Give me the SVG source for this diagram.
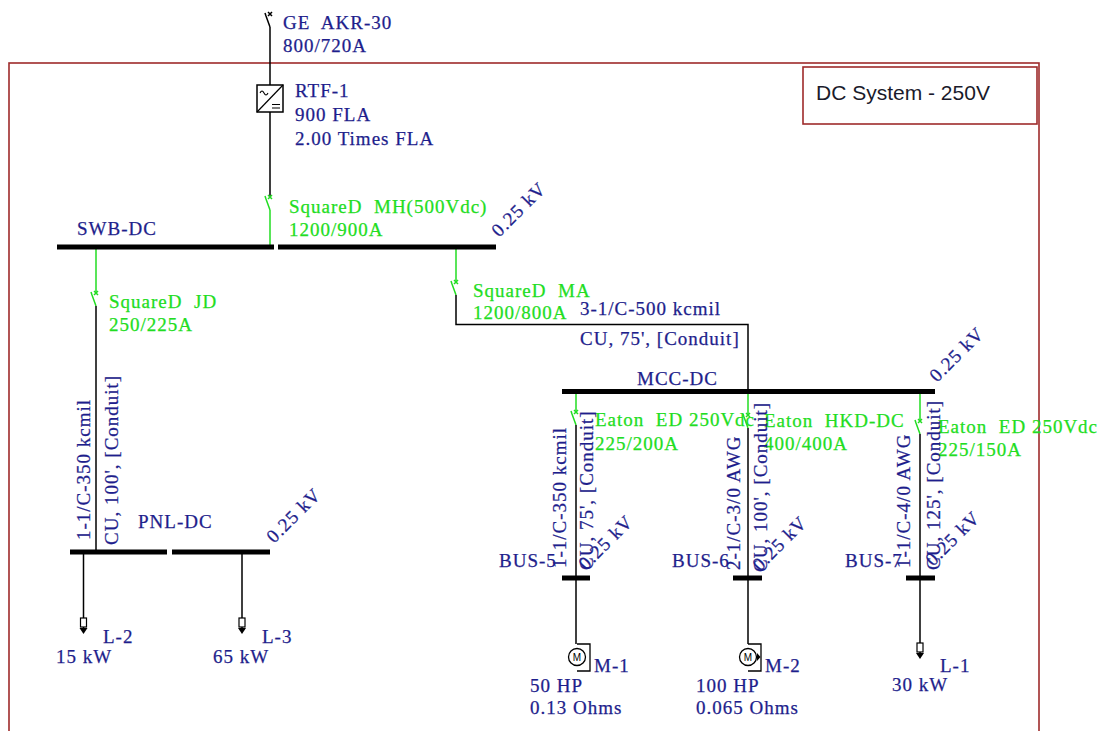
<svg xmlns="http://www.w3.org/2000/svg" width="1107" height="731" viewBox="0 0 1107 731">
<style>
.t{font-family:"Liberation Serif","Times New Roman",serif;font-size:19px;letter-spacing:1px;fill:#1e1e8c;stroke:#1e1e8c;stroke-width:0.25;white-space:pre}
.g{fill:#22dd22;stroke:#22dd22}
.k{stroke:#000;stroke-width:1.5;fill:none}
.gk{stroke:#22dd22;stroke-width:1.5;fill:none}
.bus{stroke:#000;stroke-width:5;fill:none}
.frame{fill:none;stroke:#9e2b2b;stroke-width:1.6}
.title{font-family:"Liberation Sans",Arial,sans-serif;font-size:21px;fill:#1a1a2a}
</style>
<defs>
<path id="brk" d="M-2,-2 L2,2 M-2,2 L2,-2 M-5,-1 L-4,2 L0,13"/>
<g id="load">
<rect x="-3" y="0" width="6" height="9" fill="#fff" stroke="#000" stroke-width="1.2"/>
<path d="M0,9 V11" stroke="#000" stroke-width="1.5"/>
<path d="M-4,10 H4 L0,16 Z" fill="#000"/>
</g>
<g id="motor">
<path d="M0,-13 H13 V14 H0" fill="none" stroke="#000" stroke-width="1.3"/>
<circle cx="0" cy="0" r="8.5" fill="#fff" stroke="#000" stroke-width="1.3"/>
<text x="0" y="3.5" text-anchor="middle" font-family="Liberation Sans,Arial,sans-serif" font-size="10" fill="#000">M</text>
</g>
</defs>
<rect width="1107" height="731" fill="#fff"/>

<g id="frame">
<rect class="frame" x="9" y="63" width="1030" height="690"/>
</g>
<g id="title">
<rect class="frame" x="803" y="67" width="234" height="57"/>
<text class="title" x="816" y="100">DC System - 250V</text>
</g>

<g id="connectors">
<use href="#brk" class="k" x="270" y="14"/>
<path class="k" d="M270,27 V85 M270,112 V196"/>
<use href="#brk" class="gk" x="270" y="197"/>
<path class="gk" d="M270,210 V246"/>
<path class="gk" d="M96,248 V292"/>
<use href="#brk" class="gk" x="96" y="293"/>
<path class="k" d="M96,306 V550"/>
<path class="gk" d="M456,248 V281"/>
<use href="#brk" class="gk" x="456" y="282"/>
<path class="k" d="M456,295 V324.5 H748 V389"/>
<path class="gk" d="M576,393 V411"/>
<use href="#brk" class="gk" x="576" y="412"/>
<path class="k" d="M576,425 V644"/>
<path class="k" d="M748,428 V644"/>
<path class="gk" d="M748,393 V414"/>
<use href="#brk" class="gk" x="748" y="415"/>
<path class="gk" d="M920,393 V420"/>
<use href="#brk" class="gk" x="920" y="421"/>
<path class="k" d="M920,434 V643"/>
<path class="k" d="M83.5,552 V618 M242,552 V618"/>
</g>

<g id="GE-AKR-30">
<text class="t" x="283" y="29">GE  AKR-30</text>
<text class="t" x="283" y="52">800/720A</text>
</g>

<g id="RTF-1">
<rect x="257" y="85" width="26" height="27" fill="#fff" stroke="#000" stroke-width="1.5"/>
<path d="M257,112 L283,85" stroke="#000" stroke-width="1.2"/>
<path d="M260,93 q2,-4 4,0 t4,0" fill="none" stroke="#000" stroke-width="1.1"/>
<path d="M272,104.5 H280 M272,108 H280" stroke="#000" stroke-width="1.1"/>
<text class="t" x="295" y="97">RTF-1</text>
<text class="t" x="295" y="121">900 FLA</text>
<text class="t" x="295" y="145">2.00 Times FLA</text>
</g>

<g id="SquareD-MH">
<text class="t g" x="289" y="213">SquareD  MH(500Vdc)</text>
<text class="t g" x="289" y="236">1200/900A</text>
</g>

<g id="SWB-DC">
<path class="bus" d="M57,247 H274 M278,247 H496"/>
<text class="t" x="77" y="235">SWB-DC</text>
<text class="t" transform="translate(499,238) rotate(-45)">0.25 kV</text>
</g>

<g id="SquareD-JD">
<text class="t g" x="109" y="308">SquareD  JD</text>
<text class="t g" x="109" y="331">250/225A</text>
</g>

<g id="cable-PNL">
<text class="t" transform="translate(90,540) rotate(-90)">1-1/C-350 kcmil</text>
<text class="t" transform="translate(118,545) rotate(-90)">CU, 100', [Conduit]</text>
</g>

<g id="PNL-DC">
<path class="bus" d="M70,552 H167 M172,552 H270"/>
<text class="t" x="138" y="528">PNL-DC</text>
<text class="t" transform="translate(274,544) rotate(-45)">0.25 kV</text>
</g>

<g id="L-2">
<use href="#load" x="83.5" y="618"/>
<text class="t" x="103" y="643">L-2</text>
<text class="t" x="56" y="663">15 kW</text>
</g>
<g id="L-3">
<use href="#load" x="242" y="618"/>
<text class="t" x="262" y="643">L-3</text>
<text class="t" x="213" y="663">65 kW</text>
</g>

<g id="SquareD-MA">
<text class="t g" x="473" y="297">SquareD  MA</text>
<text class="t g" x="473" y="319">1200/800A</text>
</g>

<g id="cable-MCC">
<text class="t" x="580" y="315">3-1/C-500 kcmil</text>
<text class="t" x="580" y="345">CU, 75', [Conduit]</text>
</g>

<g id="MCC-DC">
<path class="bus" d="M562,391.5 H935"/>
<text class="t" x="637" y="385">MCC-DC</text>
<text class="t" transform="translate(937,383) rotate(-45)">0.25 kV</text>
</g>

<g id="Eaton-ED-1">
<text class="t g" x="595" y="426">Eaton  ED 250Vdc</text>
<text class="t g" x="595" y="450">225/200A</text>
</g>
<g id="Eaton-HKD">
<text class="t g" x="764" y="427">Eaton  HKD-DC</text>
<text class="t g" x="764" y="450">400/400A</text>
</g>
<g id="Eaton-ED-2">
<text class="t g" x="938" y="433">Eaton  ED 250Vdc</text>
<text class="t g" x="938" y="456">225/150A</text>
</g>

<g id="cable-BUS5">
<text class="t" transform="translate(566,568) rotate(-90)">1-1/C-350 kcmil</text>
<text class="t" transform="translate(593,570) rotate(-90)">CU, 75', [Conduit]</text>
</g>
<g id="cable-BUS6">
<text class="t" transform="translate(740,570) rotate(-90)">2-1/C-3/0 AWG</text>
<text class="t" transform="translate(767,572) rotate(-90)">CU, 100', [Conduit]</text>
</g>
<g id="cable-BUS7">
<text class="t" transform="translate(910,568) rotate(-90)">1-1/C-4/0 AWG</text>
<text class="t" transform="translate(940,570) rotate(-90)">CU, 125', [Conduit]</text>
</g>

<g id="BUS-5">
<path class="bus" d="M562,578 H590"/>
<text class="t" x="499" y="567">BUS-5</text>
<text class="t" transform="translate(586,571) rotate(-45)">0.25 kV</text>
</g>
<g id="BUS-6">
<path class="bus" d="M733,578 H762"/>
<text class="t" x="672" y="567">BUS-6</text>
<text class="t" transform="translate(760,572) rotate(-45)">0.25 kV</text>
</g>
<g id="BUS-7">
<path class="bus" d="M906,578 H935"/>
<text class="t" x="845" y="567">BUS-7</text>
<text class="t" transform="translate(933,567) rotate(-45)">0.25 kV</text>
</g>

<g id="M-1">
<use href="#motor" x="577" y="657"/>
<text class="t" x="594" y="672">M-1</text>
<text class="t" x="530" y="692">50 HP</text>
<text class="t" x="530" y="714">0.13 Ohms</text>
</g>
<g id="M-2">
<use href="#motor" x="748" y="657"/>
<path d="M757,653 L760.5,657 L757,661 Z" fill="#000"/>
<text class="t" x="765" y="672">M-2</text>
<text class="t" x="696" y="692">100 HP</text>
<text class="t" x="696" y="714">0.065 Ohms</text>
</g>
<g id="L-1">
<use href="#load" x="920" y="643"/>
<text class="t" x="940" y="672">L-1</text>
<text class="t" x="892" y="691">30 kW</text>
</g>
</svg>
